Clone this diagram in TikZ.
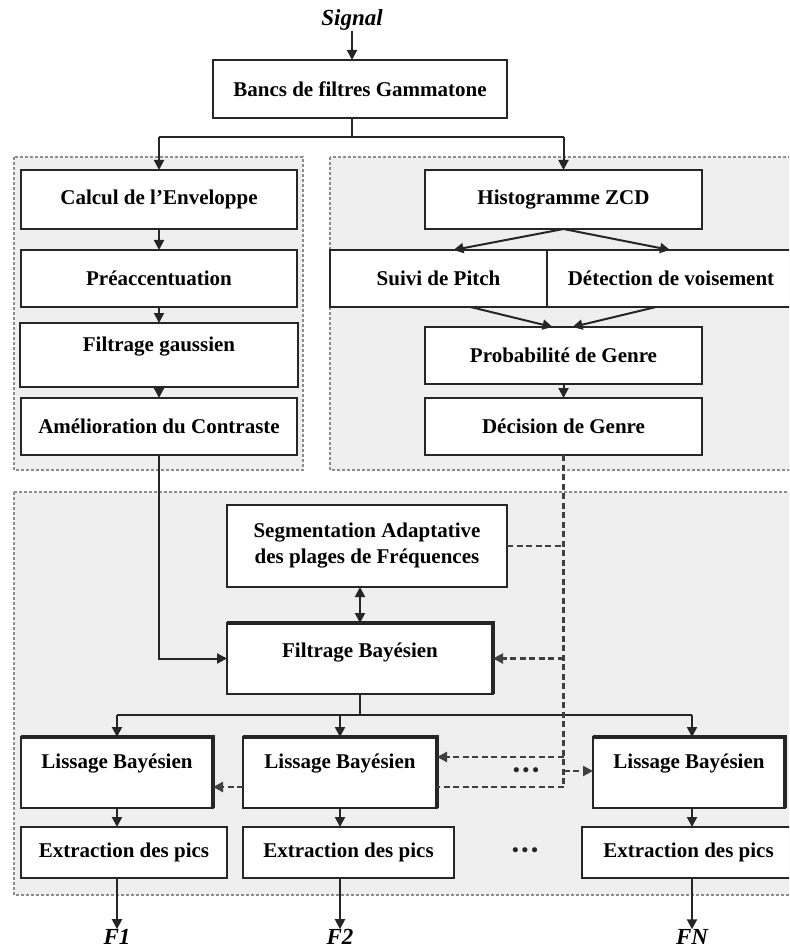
\documentclass[tikz,border=0pt]{standalone}
\usepackage{fontspec}
\setmainfont{Liberation Serif}
\usetikzlibrary{arrows.meta,calc}
\definecolor{panelgray}{HTML}{EFEFEF}
\begin{document}
\begin{tikzpicture}[x=1pt,y=-1pt,
 box/.style={draw=black!85, line width=1.9pt, fill=white, inner sep=0pt, outer sep=0pt,
   font=\bfseries\fontsize{21}{26}\selectfont, align=center},
 upA/.style={text height=14pt, text depth=22pt},
 upB/.style={text height=14pt, text depth=17pt},
 arr/.style={line width=2pt, draw=black!85, -{Triangle[length=10pt,width=10pt]}},
 darr/.style={line width=2pt, draw=black!85, {Triangle[length=10pt,width=10pt]}-{Triangle[length=10pt,width=10pt]}},
 ln/.style={line width=2pt, draw=black!85},
 dsh/.style={line width=2.2pt, draw=black!75, dash pattern=on 6pt off 3.5pt},
 dsharr/.style={dsh, -{Triangle[length=10pt,width=10pt]}},
 panel/.style={draw=black!45, fill=panelgray, line width=1.4pt, dash pattern=on 3pt off 2pt},
 lab/.style={font=\bfseries\itshape\fontsize{23}{26}\selectfont, inner sep=0pt},
 shadowedge/.style={line width=3.6pt, draw=black!85},
 dotsnode/.style={font=\bfseries\fontsize{19}{19}\selectfont, inner sep=0pt, text=black!85}
]
\useasboundingbox (0,0) rectangle (789,949);
\clip (0,0) rectangle (789,949);
\fill[white] (0,0) rectangle (789,949);

% panels
\draw[panel] (14,157) rectangle (303,470);
\draw[panel] (330,157) rectangle (800,470);
\draw[panel] (14,492) rectangle (800,895);

% top
\node[lab] (signal) at (352,20) {Signal};
\node[box, minimum width=294pt, minimum height=58pt] (bancs) at (360,89) {Bancs de filtres Gammatone};

% left column
\node[box, minimum width=276pt, minimum height=59pt] (calc) at (159,199.5) {Calcul de l’Enveloppe};
\node[box, minimum width=276pt, minimum height=57pt] (pre) at (159,278.5) {Préaccentuation};
\node[box, upA, minimum width=278pt, minimum height=64pt] (fg) at (159,355) {Filtrage gaussien};
\node[box, minimum width=276pt, minimum height=57pt] (amel) at (159,426.5) {Amélioration du Contraste};

% right column
\node[box, minimum width=277pt, minimum height=59pt] (hist) at (563.5,199.5) {Histogramme ZCD};
\node[box, minimum width=217pt, minimum height=57pt] (suivi) at (438.5,278.5) {Suivi de Pitch};
\node[box, minimum width=248pt, minimum height=57pt] (det) at (671,278.5) {Détection de voisement};
\node[box, minimum width=277pt, minimum height=57pt] (prob) at (563.5,355.5) {Probabilité de Genre};
\node[box, minimum width=277pt, minimum height=57pt] (dec) at (563.5,426.5) {Décision de Genre};

% bottom
\node[box, minimum width=280pt, minimum height=82pt] (seg) at (367,546) {Segmentation Adaptative\\des plages de Fréquences};
\node[box, upB, minimum width=266pt, minimum height=71pt] (fb) at (360,658.5) {Filtrage Bayésien};
\node[box, upA, minimum width=192pt, minimum height=71pt] (l1) at (117,772.5) {Lissage Bayésien};
\node[box, upA, minimum width=194pt, minimum height=71pt] (l2) at (340,772.5) {Lissage Bayésien};
\node[box, upA, minimum width=192pt, minimum height=71pt] (lN) at (689,772.5) {Lissage Bayésien};
\node[box, minimum width=206pt, minimum height=51pt] (e1) at (124,852.5) {Extraction des pics};
\node[box, minimum width=211pt, minimum height=51pt] (e2) at (348.5,852.5) {Extraction des pics};
\node[box, minimum width=213pt, minimum height=51pt] (eN) at (688.5,852.5) {Extraction des pics};

% shadow edges
\foreach \n in {fb,l1,l2,lN}{
  \draw[shadowedge] (\n.north west) -- (\n.north east) -- (\n.south east);
}

% outputs
\node[lab] (f1) at (117,937) {F1};
\node[lab] (f2) at (340,937) {F2};
\node[lab] (fN) at (692,937) {FN};

% helper coordinates
\coordinate (ybr) at (0,137);
\coordinate (ybar) at (0,715);
\coordinate (dvb) at (563.5,787);
\coordinate (y757) at (0,757);
\coordinate (y771) at (0,771);
\coordinate (y787) at (0,787);

% solid connectors
\draw[arr] (signal.south) -- (signal.south |- bancs.north);
\draw[ln] (signal |- bancs.south) -- (signal |- ybr);
\draw[ln] (calc.north |- ybr) -- (hist.north |- ybr);
\draw[arr] (calc.north |- ybr) -- (calc.north);
\draw[arr] (hist.north |- ybr) -- (hist.north);
\draw[arr] (calc.south) -- (pre.north);
\draw[arr] (pre.south) -- (fg.north);
\draw[arr] (fg.south) -- (amel.north);
\draw[arr] (amel.south) |- (fb.west);

\draw[arr] (hist.south) -- ([xshift=15pt]suivi.north);
\draw[arr] (hist.south) -- ([xshift=-1pt]det.north);
\draw[arr] ([xshift=32pt]suivi.south) -- ([xshift=-11pt]prob.north);
\draw[arr] ([xshift=-15pt]det.south) -- ([xshift=9pt]prob.north);
\draw[arr] (prob.south) -- (dec.north);

\draw[darr] (fb.north |- seg.south) -- (fb.north);
\draw[ln] (fb.south) -- (fb.south |- ybar);
\draw[ln] (l1.north |- ybar) -- ([xshift=3pt]lN.north |- ybar);
\draw[arr] (l1.north |- ybar) -- (l1.north);
\draw[arr] (l2.north |- ybar) -- (l2.north);
\draw[arr] ([xshift=3pt]lN.north |- ybar) -- ([xshift=3pt]lN.north);
\draw[arr] (l1.south) -- (l1.south |- e1.north);
\draw[arr] (l2.south) -- (l2.south |- e2.north);
\draw[arr] ([xshift=3pt]lN.south) -- ([xshift=3pt]lN.south |- eN.north);
\draw[arr] (l1.south |- e1.south) -- (f1.north);
\draw[arr] (l2.south |- e2.south) -- (f2.north);
\draw[arr] (fN.north |- eN.south) -- (fN.north);

% dashed connectors
\draw[dsh] (dec.south) -- (dvb);
\draw[dsh] (seg.east) -- (seg.east -| dvb);
\draw[dsharr] (fb.east -| dvb) -- (fb.east);
\draw[dsharr] (dvb |- y757) -- (l2.east |- y757);
\draw[dsh] (dvb) -- (l2.east |- y787);
\draw[dsharr] (dvb |- y771) -- (lN.west |- y771);
\draw[dsharr] (l2.west |- y787) -- (l1.east |- y787);

% ellipses
\node[dotsnode] (dots1) at (526,772) {•\hspace{3pt}•\hspace{3pt}•};
\node[dotsnode] (dots2) at (525,852) {•\hspace{3pt}•\hspace{3pt}•};
\end{tikzpicture}
\end{document}
